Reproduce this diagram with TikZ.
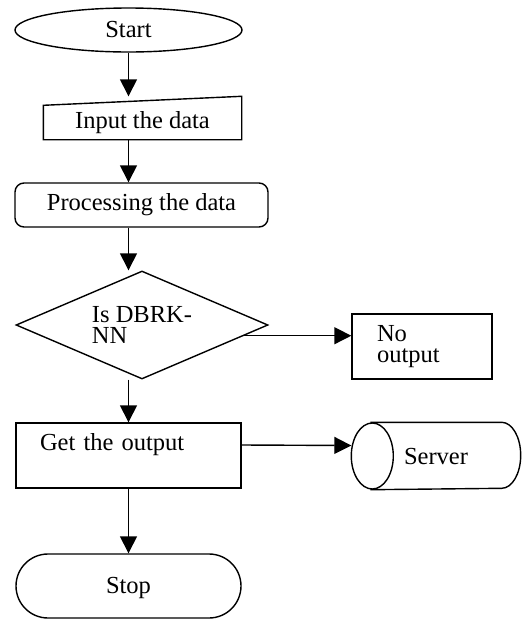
\documentclass[tikz,border=0pt]{standalone}
\usepackage{fontspec}
\setmainfont{Liberation Serif}
\usetikzlibrary{arrows.meta,shapes.geometric}

\begin{document}
\begin{tikzpicture}[x=1pt,y=-1pt,line width=1.4pt,
    font=\fontsize{24.5}{21.5}\selectfont,
    every node/.style={inner sep=0pt},
    arr/.style={-{Triangle[length=17pt,width=17pt]}}]

\useasboundingbox (0,0) rectangle (522,619);

\node[draw,ellipse,minimum width=227pt,minimum height=44pt] (start) at (128.5,30) {Start};

\node[minimum width=197pt,minimum height=42pt,text height=25pt,text depth=5pt] (input) at (142.5,118) {Input the data};
\draw (input.south west) -- (input.south east) -- (input.north east)
    -- ([yshift=-9pt]input.north west) -- cycle;

\node[draw,rounded corners=9pt,minimum width=253pt,minimum height=44pt] (proc) at (141.5,205) {Processing the data};

\node[draw,diamond,aspect=2.33,minimum width=252pt,minimum height=108pt,align=left] (dec) at (142,325) {Is DBRK-\\NN};
\node[draw,minimum width=140pt,minimum height=65pt,text width=90pt,align=left] (no) at (422,346.5) {No\\output};

\node[draw,minimum width=225pt,minimum height=65pt,text width=177pt,align=left,
    text height=16pt,text depth=27pt] (get) at (128.5,455.5) {Get the output};

% server drum, open end on the left
\node[minimum width=168pt,minimum height=66pt,text depth=0pt,xshift=-2pt] (serv) at (438,456) {Server};
\draw ([xshift=19pt]serv.north west) -- ([xshift=-19pt]serv.north east)
    arc[start angle=90,end angle=-90,x radius=19pt,y radius=33pt]
    -- ([xshift=19pt]serv.south west);
\draw ([xshift=21pt]serv.west) ellipse [x radius=21pt,y radius=33pt];

\node[draw,rounded corners=32pt,minimum width=225pt,minimum height=64pt,text depth=2pt] (stop) at (128.5,586) {Stop};

\coordinate (dx) at (dec.-6.3);

\draw[arr] (start.south) -- (start.south |- input.north);
\draw[arr] (start.south |- input.south) -- (start.south |- proc.north);
\draw[arr] (start.south |- proc.south) -- (start.south |- dec.north);
\draw[arr] (start.south |- dec.south) -- (get.north);
\draw[arr] (dx) -- (dx -| no.west);
\draw[arr] ([yshift=10.5pt]get.east) -- ([yshift=10.5pt]serv.west);
\draw[arr] (get.south) -- (stop.north);

\end{tikzpicture}
\end{document}
